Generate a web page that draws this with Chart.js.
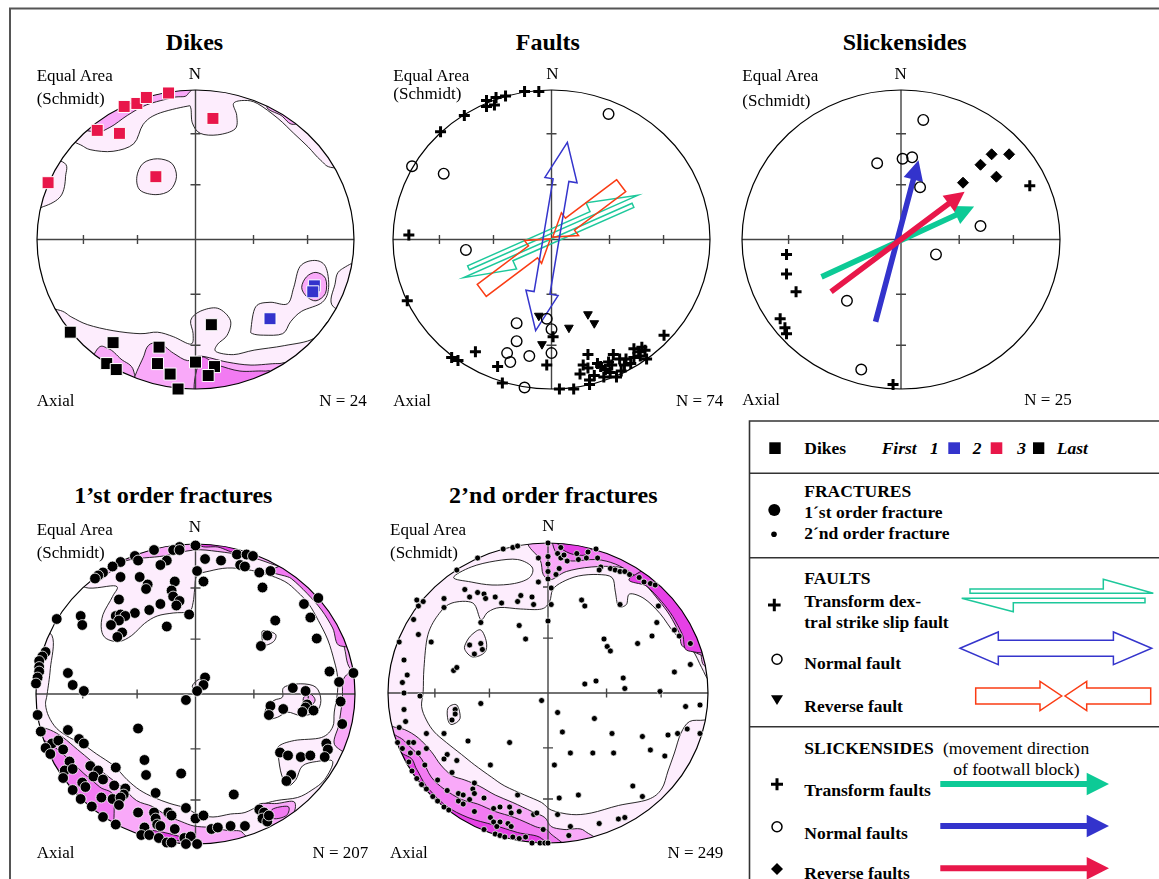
<!DOCTYPE html>
<html>
<head>
<meta charset="utf-8">
<title>Stereonets</title>
<script src="https://cdn.jsdelivr.net/npm/chart.js@4.4.1/dist/chart.umd.min.js"></script>
<style>
  html, body { margin: 0; padding: 0; background: #fff; }
  body { position: relative; width: 1159px; height: 879px; overflow: hidden;
         font-family: "Liberation Serif", "Times New Roman", Times, serif; color: #000; }
  canvas { position: absolute; }
  svg { position: absolute; left: 0; top: 0; }
  .t { position: absolute; white-space: nowrap; line-height: 1; }
  .lab { font-size: 17px; }
  .ttl { font-size: 24px; font-weight: bold; transform: translateX(-50%); }
  .c { transform: translateX(-50%); }
  .lg { font-size: 17.5px; font-weight: bold; }
  .bi { font-style: italic; }
  .reg { font-weight: normal; }
</style>
</head>
<body>

<svg width="1159" height="879">
  <path d="M10 879 V8.5 H1159" stroke="#555" stroke-width="2" fill="none"/>
  <g stroke="#333" stroke-width="1.6" fill="none">
    <path d="M749.5 879 V421 H1159"/>
    <path d="M749.5 473.3 H1159 M749.5 557.7 H1159 M749.5 726.7 H1159"/>
  </g>
  <rect x="769.3" y="442.3" width="11.4" height="11.7" fill="#000"/>
  <rect x="948.3" y="442.3" width="11.7" height="11.7" fill="#3333cc"/>
  <rect x="990.7" y="442.3" width="11.6" height="11.7" fill="#e8174a"/>
  <rect x="1033" y="442.3" width="11.3" height="11.7" fill="#000"/>
  <circle cx="774.3" cy="510" r="6" fill="#000"/>
  <circle cx="774" cy="534.3" r="2.8" fill="#000"/>
  <path d="M768 605 H780.6 M774.3 598.7 V611.3" stroke="#000" stroke-width="3"/>
  <circle cx="777" cy="659.3" r="5" fill="none" stroke="#000" stroke-width="1.5"/>
  <polygon points="771,695.3 783,695.3 777,705" fill="#000"/>
  <path d="M771 784.3 H783 M777 778.3 V790.3" stroke="#000" stroke-width="3"/>
  <circle cx="777" cy="826.7" r="5" fill="none" stroke="#000" stroke-width="1.5"/>
  <polygon points="777,863 783,869 777,875 771,869" fill="#000"/>
  <g fill="none" stroke-width="1.5">
    <polygon stroke="#1dc89b" points="970,593.3 1153.3,593.3 1103.3,579.3 1103.3,589 970,589"/>
    <polygon stroke="#1dc89b" points="1145,598.3 961.7,598.3 1013.3,611.7 1013.3,602.7 1145,602.7"/>
    <polygon stroke="#3535cc" points="960,648.3 998.3,632 998.3,640.3 1113.4,640.3 1113.4,632 1151.7,648.3 1113.4,664.6 1113.4,656.3 998.3,656.3 998.3,664.6"/>
    <polygon stroke="#fa3c14" points="975.7,688 1040,688 1040,681.3 1061.7,696 1040,710.7 1040,704 975.7,704"/>
    <polygon stroke="#fa3c14" points="1150.7,688 1086.7,688 1086.7,681.3 1065,696 1086.7,710.7 1086.7,704 1150.7,704"/>
  </g>
  <polygon fill="#0dca96" points="940.3,781 1086.7,781 1086.7,772.7 1109,784 1086.7,795.3 1086.7,787 940.3,787"/>
  <polygon fill="#3333cc" points="940.3,823 1086.7,823 1086.7,814.7 1109,826 1086.7,837.3 1086.7,829 940.3,829"/>
  <polygon fill="#e8174a" points="940.3,865.3 1086.7,865.3 1086.7,857 1109,868.3 1086.7,879.6 1086.7,871.3 940.3,871.3"/>
</svg>

<canvas id="dikes"></canvas>
<canvas id="faults"></canvas>
<canvas id="slicks"></canvas>
<canvas id="first"></canvas>
<canvas id="second"></canvas>

<!-- panel labels -->
<div class="t ttl" style="left:194.5px;top:29.9px">Dikes</div>
<div class="t lab" style="left:36.7px;top:66.8px">Equal Area</div>
<div class="t lab" style="left:36.7px;top:89.8px">(Schmidt)</div>
<div class="t lab c" style="left:195px;top:64.8px">N</div>
<div class="t lab" style="left:36.7px;top:391.5px">Axial</div>
<div class="t lab" style="right:792.3px;top:391.5px">N = 24</div>

<div class="t ttl" style="left:547.8px;top:29.9px">Faults</div>
<div class="t lab" style="left:393.3px;top:66.8px">Equal Area</div>
<div class="t lab" style="left:393.3px;top:84.8px">(Schmidt)</div>
<div class="t lab c" style="left:552.3px;top:64.8px">N</div>
<div class="t lab" style="left:393.3px;top:391.5px">Axial</div>
<div class="t lab" style="right:435.7px;top:391.5px">N = 74</div>

<div class="t ttl" style="left:904.7px;top:29.9px">Slickensides</div>
<div class="t lab" style="left:742.3px;top:66.8px">Equal Area</div>
<div class="t lab" style="left:742.3px;top:91.8px">(Schmidt)</div>
<div class="t lab c" style="left:900.7px;top:64.8px">N</div>
<div class="t lab" style="left:742.3px;top:390.8px">Axial</div>
<div class="t lab" style="right:87.3px;top:390.8px">N = 25</div>

<div class="t ttl" style="left:173.3px;top:483.2px">1’st order fractures</div>
<div class="t lab" style="left:36.7px;top:520.8px">Equal Area</div>
<div class="t lab" style="left:36.7px;top:543.8px">(Schmidt)</div>
<div class="t lab c" style="left:195px;top:517.5px">N</div>
<div class="t lab" style="left:36.7px;top:844.1px">Axial</div>
<div class="t lab" style="right:790.7px;top:844.1px">N = 207</div>

<div class="t ttl" style="left:553.3px;top:483.2px">2’nd order fractures</div>
<div class="t lab" style="left:390px;top:520.8px">Equal Area</div>
<div class="t lab" style="left:390px;top:543.8px">(Schmidt)</div>
<div class="t lab c" style="left:548.3px;top:516.8px">N</div>
<div class="t lab" style="left:390px;top:843.8px">Axial</div>
<div class="t lab" style="right:435.7px;top:843.8px">N = 249</div>

<!-- legend text -->
<div class="t lg" style="left:804.3px;top:440.3px">Dikes</div>
<div class="t lg bi" style="left:881.7px;top:440.3px">First</div>
<div class="t lg bi" style="left:930px;top:440.3px">1</div>
<div class="t lg bi" style="left:972.7px;top:440.3px">2</div>
<div class="t lg bi" style="left:1017.3px;top:440.3px">3</div>
<div class="t lg bi" style="left:1056.7px;top:440.3px">Last</div>
<div class="t lg" style="left:804.3px;top:482.6px">FRACTURES</div>
<div class="t lg" style="left:804.3px;top:503.6px">1´st order fracture</div>
<div class="t lg" style="left:804.3px;top:524.6px">2´nd order fracture</div>
<div class="t lg" style="left:804.3px;top:570.3px">FAULTS</div>
<div class="t lg" style="left:804.3px;top:592.6px">Transform dex-</div>
<div class="t lg" style="left:804.3px;top:613.6px">tral strike slip fault</div>
<div class="t lg" style="left:804.3px;top:655.3px">Normal fault</div>
<div class="t lg" style="left:804.3px;top:698px">Reverse fault</div>
<div class="t lg" style="left:804.3px;top:740.3px">SLICKENSIDES</div>
<div class="t lg reg" style="left:943px;top:740.3px">(movement direction</div>
<div class="t lg reg" style="left:953.3px;top:761.3px">of footwall block)</div>
<div class="t lg" style="left:804.3px;top:782px">Transform faults</div>
<div class="t lg" style="left:804.3px;top:824.6px">Normal faults</div>
<div class="t lg" style="left:804.3px;top:864.6px">Reverse faults</div>

<script>
// net coordinates: -100..100 across the primitive circle, north up
const netTicks = [36.6, 70.7];

// Dikes (1 = first, 3 = last)
const dikeSet1 = [[75, -31], [74, -35], [47, -53]];
const dikeSet2 = [[-45, 89], [-37, 91], [-31, 95], [-17, 98], [-62, 73], [-48, 71], [-93, 38], [-25, 42], [11, 81]];
const dikeSet3 = [[-79, -62], [-52, -69], [-56, -83], [-50, -87], [-23, -72], [-24, -83], [-16, -90],
                  [-11, -100], [0, -82], [12, -85], [8, -91], [10, -57]];

// Faults
const faultTransform = [[-8, 99], [-17, 99], [-29, 96], [-35, 95], [-41, 93], [-36, 90], [-41, 89], [-55, 83],
  [-70, 72], [-90, 3], [-91, -41], [-63, -79], [-59, -81], [-48, -75], [-34, -85], [-31, -96], [-3, -84],
  [1, -65], [5, -100], [14, -100], [24, -97], [71, -64], [23, -77], [18, -90], [23, -86], [27, -91],
  [31, -85], [36, -82], [39, -77], [37, -89], [41, -92], [46, -84], [52, -79], [55, -75], [59, -74],
  [60, -80], [43, -80], [29, -83], [47, -80], [52, -73], [33, -92], [24, -94], [57, -72], [34, -87],
  [50, -83], [56, -78], [44, -88], [20, -84], [38, -84]];
const faultNormal = [[36, 84], [-88, 49], [-68, 44], [-54, -7], [-22, -56], [-3, -53], [0, -60], [-22, -68],
  [-28, -76], [-26, -82], [-14, -78], [0, -76], [-17, -99]];
const faultReverse = [[-8, -51], [23, -50], [27, -56], [11, -59], [-6, -70]];
const faultArrows = [
  { kind: 'transform', from: [-56, -24], to: [55, 28] },
  { kind: 'reverse', from: [-44, -34], to: [44, 36] },
  { kind: 'normal', from: [-10, -61], to: [10, 65] },
];

// Slickensides
const slickTransform = [[81, 36], [-72, -10], [-72, -23], [-66, -35], [-76, -53], [-72, -63], [-73, -59], [-5, -97]];
const slickNormal = [[14, 80], [-15, 51], [1, 54], [7, 55], [12, 35], [50, 9], [22, -10], [-34, -41], [-25, -87]];
const slickReverse = [[39, 38], [50, 50], [57, 57], [68, 57], [60, 42]];
const slickArrows = [
  { kind: 'transform', from: [-50, -25], to: [46, 22] },
  { kind: 'normal', from: [-16, -55], to: [11, 53] },
  { kind: 'reverse', from: [-44, -35], to: [40, 32] },
];

// 1'st order fractures
const firstOrder = [[-10, 98], [0, 99], [-14, 96], [-10, 96], [-26, 96], [-38, 92], [-36, 89], [-47, 88],
  [-52, 85], [-58, 81], [-61, 79], [-63, 77], [-47, 78], [-18, 89], [-22, 86], [-35, 78], [-30, 73],
  [-31, 70], [-13, 75], [-15, 69], [-14, 65], [-10, 62], [-12, 59], [6, 90], [16, 89], [1, 82], [5, 75],
  [26, 93], [32, 93], [36, 92], [28, 86], [31, 85], [40, 81], [47, 82], [42, 71], [77, 64], [68, 60],
  [72, 51], [76, 37], [50, 49], [45, 39], [41, 32], [-48, 63], [-72, 52], [-71, 46], [-87, 50], [-38, 54],
  [-29, 56], [-22, 60], [-4, 53], [-18, 45], [-50, 52], [-47, 53], [-44, 52], [-48, 49], [-53, 46],
  [-46, 41], [-49, 38], [-94, 28], [-96, 25], [-98, 22], [-98, 18], [-98, 15], [-99, 11], [-100, 7],
  [-80, 14], [-77, 6], [-70, 2], [6, 11], [5, 6], [1, 2], [84, 15], [99, 14], [90, 8], [61, 4], [69, 2],
  [-6, -4], [47, -8], [55, -10], [46, -14], [70, -7], [69, -9], [67, -12], [74, -11], [91, -5], [92, -20],
  [-99, -14], [-97, -25], [-36, -23], [-80, -24], [-73, -30], [-70, -33], [-90, -33], [-86, -31], [-83, -37],
  [-94, -36], [-91, -40], [-79, -45], [-82, -51], [-77, -50], [-83, -56], [-66, -48], [-61, -51], [-64, -55],
  [-58, -57], [-50, -49], [-51, -61], [-44, -63], [-45, -67], [-71, -59], [-69, -62], [-77, -64], [-72, -70],
  [-59, -69], [-52, -70], [-47, -69], [-48, -74], [-65, -75], [-58, -82], [-50, -87], [-32, -44], [-31, -54],
  [-9, -53], [-25, -66], [24, -67], [53, -39], [58, -41], [66, -42], [72, -41], [82, -33], [83, -37],
  [81, -42], [60, -54], [57, -58], [-6, -76], [-36, -79], [-26, -79], [-25, -83], [-24, -87], [-22, -88],
  [-17, -79], [-15, -81], [-13, -90], [-32, -89], [-34, -94], [-29, -94], [-23, -96], [-18, -99], [-15, -99],
  [-7, -96], [-3, -95], [-6, -100], [1, -100], [0, -83], [5, -81], [10, -90], [14, -89], [22, -88], [31, -88],
  [40, -77], [43, -79], [42, -83], [45, -85], [46, -81]];

// 2'nd order fractures
const secondOrder = [[0, 100], [-28, 96], [-22, 97], [-19, 98], [-44, 90], [-57, 82], [-6, 90], [0, 91],
  [0, 86], [0, 81], [-6, 74], [0, 76], [2, 70], [8, 97], [6, 93], [8, 90], [7, 83], [5, 79], [10, 92],
  [12, 88], [18, 93], [19, 89], [25, 94], [24, 90], [30, 96], [31, 90], [33, 84], [32, 82], [39, 83],
  [42, 82], [45, 81], [48, 81], [51, 79], [57, 77], [60, 74], [64, 73], [67, 72], [-52, 69], [-44, 67],
  [-40, 66], [-39, 63], [-49, 64], [-33, 64], [-29, 60], [-17, 65], [-10, 64], [-19, 61], [-9, 59], [2, 59],
  [-65, 63], [-65, 57], [-78, 61], [-81, 58], [-84, 49], [-81, 39], [-93, 34], [-90, 22], [-88, 12],
  [-91, 7], [-73, 34], [-42, 47], [-18, 45], [-14, 36], [0, 48], [-49, 32], [-42, 33], [-41, 29], [-46, 26],
  [-59, 15], [-57, 17], [21, 62], [23, 58], [45, 59], [69, 58], [68, 47], [79, 42], [82, 38], [89, 33],
  [65, 38], [56, 33], [35, 36], [37, 31], [39, 28], [79, 14], [89, 19], [23, 6], [30, 8], [47, 10], [48, 3],
  [70, 1], [-82, 62], [-90, 0], [-80, -2], [-42, -7], [-4, -5], [-58, -11], [-58, -14], [-60, -18],
  [-90, -11], [-89, -19], [-93, -23], [-76, -27], [-65, -27], [-50, -32], [-24, -33], [-94, -33], [-87, -33],
  [-84, -33], [-91, -37], [-86, -40], [-81, -40], [-76, -37], [-63, -41], [-65, -44], [-57, -45], [-87, -46],
  [-77, -48], [-60, -53], [-36, -48], [-85, -52], [-82, -57], [-79, -61], [-76, -64], [-72, -69], [-69, -72],
  [-65, -76], [-62, -78], [-69, -58], [-63, -65], [-56, -67], [-53, -68], [-56, -72], [-53, -74], [-49, -71],
  [-46, -60], [-47, -64], [-46, -67], [-40, -70], [-46, -79], [-34, -77], [-30, -76], [-24, -76], [-19, -68],
  [-18, -79], [-23, -80], [-9, -81], [-7, -80], [-36, -83], [-34, -86], [-30, -86], [-25, -87], [-23, -89],
  [-40, -91], [-32, -89], [-33, -94], [-30, -95], [-27, -96], [-22, -96], [-18, -97], [-14, -96], [-10, -100],
  [-5, -100], [-2, -100], [0, -100], [-3, -91], [6, -13], [29, -17], [9, -26], [40, -27], [59, -29],
  [75, -28], [81, -27], [87, -24], [95, -27], [86, -9], [95, -8], [14, -40], [28, -40], [41, -40], [64, -38],
  [73, -42], [4, -48], [53, -62], [59, -69], [19, -68], [7, -70], [6, -81], [14, -89], [13, -95], [32, -87],
  [44, -84], [48, -83]];

// density contours: level 0 = blank, 1..4 = increasing density
const dikesContours = [
  { level: 1, pts: [[-110, 60], [-90, 70], [-74, 64], [-66, 60], [-52, 59], [-39, 64], [-33, 77], [-24, 84], [-6, 89],
    [-3, 88], [-2, 78], [3, 71], [14, 70], [25, 74], [26, 83], [24, 91], [31, 93], [39, 91], [52, 81], [62, 71],
    [71, 62], [79, 53], [87, 48], [110, 50], [110, 110], [-110, 110]] },
  { level: 2, pts: [[-80, 80], [-64, 72], [-54, 75], [-43, 83], [-31, 90], [-14, 95], [-5, 97], [-5, 110], [-80, 110]] },
  { level: 2, pts: [[45, 89], [54, 83], [62, 77], [75, 85], [55, 100]] },
  { level: 1, pts: [[-110, 55], [-84, 52], [-82, 42], [-85, 29], [-96, 22], [-110, 20]] },
  { level: 1, pts: [[-37, 42], [-33, 51], [-24, 54], [-15, 51], [-12, 42], [-16, 33], [-25, 30], [-35, 33]] },
  { level: 1, pts: [[35, -60], [38, -45], [47, -42], [58, -43], [62, -32], [66, -18], [75, -14], [82, -18], [84, -32],
    [80, -42], [67, -48], [60, -55], [55, -63], [43, -64], [36, -63]] },
  { level: 2, pts: [[67, -32], [70, -25], [76, -22], [82, -26], [82, -36], [76, -41], [70, -38]] },
  { level: 1, pts: [[92, -20], [88, -30], [87, -45], [110, -50], [110, -15]] },
  { level: 1, pts: [[-110, -45], [-87, -47], [-78, -52], [-68, -57], [-52, -61], [-35, -63], [-24, -62], [-14, -65],
    [-3, -70], [-1.5, -63], [-3, -54], [3, -48], [14, -46], [22, -54], [20, -64], [14, -70], [13, -75], [24, -77],
    [37, -74], [56, -71], [75, -66], [87, -52], [110, -50], [110, -110], [-110, -110]] },
  { level: 2, pts: [[-63, -75], [-55, -73], [-47, -80], [-39, -88], [-40, -110], [-75, -110]] },
  { level: 2, pts: [[-32, -76], [-24, -69], [-14, -76], [-5, -81], [3, -78], [20, -82], [35, -84], [52, -83], [58, -85],
    [60, -110], [-33, -110]] },
  { level: 3, pts: [[3, -80], [14, -84], [28, -88], [43, -88], [48, -90], [50, -110], [3, -110]] },
];

const firstContours = [
  { level: 1, pts: [[-120, -120], [120, -120], [120, 120], [-120, 120]] },
  { level: 0, pts: [[-91, 17], [-90, 39], [-105, 48], [-80, 82], [-69, 71], [-50, 72], [-52, 65], [-58, 53], [-59, 43],
    [-56, 37], [-48, 35], [-40, 39], [-32, 47], [-24, 52], [-14, 54], [-4, 55], [-1.5, 61], [-0.5, 70], [1, 79],
    [9, 82], [20, 84], [32, 83], [44, 80], [56, 75], [64, 68], [71, 60], [77, 49], [83, 36], [87, 22], [89, 12],
    [89, 1], [87, -12], [86, -22], [79, -29], [62, -31], [52, -35], [52, -42], [54, -54], [58, -61], [63, -57],
    [67, -48], [76, -45], [86, -45], [81, -57], [73, -64], [64, -69], [51, -71], [41, -74], [31, -79], [22, -80],
    [11, -82], [1, -80], [-6, -76], [-16, -73], [-26, -69], [-35, -64], [-43, -57], [-51, -48], [-62, -40],
    [-70, -34], [-79, -29], [-87, -23], [-92, -15], [-94, -7], [-93, 0]] },
  { level: 1, pts: [[42, 42], [50, 40], [49, 35], [43, 33]] },
  { level: 1, pts: [[-2, 5], [1, 9], [4, 10], [5, 7], [2, 1]] },
  { level: 1, pts: [[55.5, 4.5], [66, 6.8], [75.5, 4.5], [78.6, -4.3], [75.5, -12.1], [66, -14.3], [57.7, -12.1],
    [51.4, -15.5], [45.1, -16.5], [44, -9.9], [49.2, -4.3], [54.5, -2.1]] },
  { level: 2, pts: [[68, -2], [72, 0], [75, -4], [72, -8], [68, -6]] },
  { level: 2, pts: [[-75, 95], [-63, 76], [-54, 81], [-43, 89], [-20, 92], [-1, 96], [14, 95], [32, 92], [47, 87],
    [58, 82], [68, 72], [79, 60], [87, 46], [93, 32], [97, 17], [110, 10], [110, 110], [-75, 110]] },
  { level: 2, pts: [[94, 12], [92, -5], [90, -20], [88, -35], [110, -40], [110, 15]] },
  { level: 2, pts: [[-110, -20], [-98.5, -22], [-91, -24], [-83, -29], [-74, -37], [-65, -45], [-56, -54], [-46, -62],
    [-37, -71], [-27, -75], [-18, -81], [-9, -85], [-1, -88], [9, -89], [20, -91], [30, -93], [30, -110], [-110, -110]] },
  { level: 2, pts: [[39, -74], [51, -73], [62, -72], [60, -82], [47, -88], [41, -85]] },
  { level: 3, pts: [[48, -77], [58, -75], [57, -81], [49, -83]] },
  { level: 4, pts: [[3, 99], [14, 98], [26, 95], [30, 110], [0, 110]] },
  { level: 3, pts: [[50, 84], [60, 77], [70, 67], [79, 56], [86, 44], [91, 32], [110, 40], [110, 100]] },
  { level: 3, pts: [[-110, -30], [-95, -31], [-81, -42], [-70, -53], [-60, -62], [-51, -71], [-60, -110], [-110, -110]] },
  { level: 4, pts: [[-27, -91], [-10, -95], [-8, -98], [-27, -95]] },
];

const secondContours = [
  { level: 1, pts: [[-120, -120], [120, -120], [120, 120], [-120, 120]] },
  { level: 0, pts: [[-78, 1], [-77.5, 17], [-75, 39], [-68, 53], [-60, 60], [-47, 60], [-42, 49], [-37.5, 54],
    [-30, 57], [-17, 56], [-4, 56], [1, 61], [3, 69], [9, 74], [19, 78], [31, 79], [40, 77], [42, 68], [44, 58],
    [49, 59], [51, 66], [60, 63], [70, 53], [79, 40], [90, 29], [96, 17], [101, 8], [110, 5], [110, -15], [98, -18],
    [88.5, -19], [83, -27], [79, -40], [75, -52], [71, -64], [62.5, -71], [44, -75], [27, -80], [14.6, -81], [2, -78],
    [-4, -73], [-14.6, -68], [-27, -62], [-35.4, -56], [-45.8, -48], [-54, -41], [-63.5, -33], [-71, -26], [-76, -18],
    [-79, -9]] },
  { level: 0, pts: [[-59, 77], [-48, 84], [-33, 88], [-19, 89], [-10, 84], [-11.5, 77], [-21, 73], [-35, 72], [-48, 74]] },
  { level: 1, pts: [[-51, 34], [-47.5, 39], [-42, 42], [-38.5, 34], [-39.6, 27], [-47, 24], [-52, 29]] },
  { level: 1, pts: [[-62.5, -10], [-57, -8], [-55, -17], [-60, -21], [-62.5, -18]] },
  { level: 2, pts: [[-12.5, 110], [-12.5, 99], [-5, 89], [-3, 79], [2, 75.6], [11.5, 81], [27, 84], [44, 84], [56, 80],
    [66, 71], [75, 60], [84, 48], [90, 38], [95, 28], [98, 18], [110, 20], [110, 110]] },
  { level: 3, pts: [[3, 110], [3, 99], [7, 91], [15, 88], [30, 89], [42, 86], [52, 80], [61, 72], [69, 62], [76, 52],
    [82, 40], [86, 30], [110, 30], [110, 110]] },
  { level: 4, pts: [[6, 110], [6, 100], [10, 95], [18, 92], [26, 94], [30, 110]] },
  { level: 4, pts: [[53, 78], [62, 71], [71, 61], [78, 51], [84, 39], [88, 28], [110, 35], [110, 100]] },
  { level: 2, pts: [[-110, -15], [-98, -22], [-89.6, -24.4], [-81, -30], [-73, -39], [-67, -48], [-60, -55], [-52, -58],
    [-43, -62], [-33, -68], [-22, -73], [-10, -79], [-2, -83], [2, -89], [10, -91], [23, -92], [30, -110], [-110, -110]] },
  { level: 3, pts: [[-110, -25], [-94, -29], [-86.5, -35.6], [-79, -44], [-73, -56], [-65, -64], [-54, -71], [-44, -74],
    [-33, -79], [-21, -83], [-8, -89], [1, -93], [5, -110], [-110, -110]] },
  { level: 4, pts: [[-110, -40], [-88, -42], [-82, -51], [-76, -62], [-64, -75], [-50, -83], [-34, -88], [-19, -93],
    [-4, -97], [0, -110], [-110, -110]] },
];

// ---------------------------------------------------------------------------
const levelColors = ['#ffffff', '#fdedfd', '#f9a9f9', '#f27af2', '#e640e6'];
const kindColors = { transform: '#1dc89b', normal: '#3535cc', reverse: '#fa3c14' };
const slickColors = { transform: '#0dca96', normal: '#3333cc', reverse: '#e8174a' };

const pts = arr => arr.map(p => ({ x: p[0], y: p[1] }));

function smoothClosed(ctx, p) {
  const n = p.length;
  ctx.moveTo(p[0][0], p[0][1]);
  for (let i = 0; i < n; i++) {
    const p0 = p[(i - 1 + n) % n], p1 = p[i], p2 = p[(i + 1) % n], p3 = p[(i + 2) % n];
    ctx.bezierCurveTo(
      p1[0] + (p2[0] - p0[0]) / 6, p1[1] + (p2[1] - p0[1]) / 6,
      p2[0] - (p3[0] - p1[0]) / 6, p2[1] - (p3[1] - p1[1]) / 6,
      p2[0], p2[1]);
  }
  ctx.closePath();
}

// outline shapes for fault kinematics, in (along, across) pixels
function faultShapes(kind, L) {
  if (kind === 'transform') {
    const k = L / 191.6;
    return [
      [[-87.5 * k, 2.5], [95.8 * k, 2.5], [45.8 * k, 16.5], [45.8 * k, 6.8], [-87.5 * k, 6.8]],
      [[87.5 * k, -2.5], [-95.8 * k, -2.5], [-44.2 * k, -15.9], [-44.2 * k, -6.9], [87.5 * k, -6.9]],
    ];
  }
  if (kind === 'normal') {
    const h = 38.3, hw = 16.3, sw = 8, e = L / 2;
    return [[[-e, 0], [-e + h, hw], [-e + h, sw], [e - h, sw], [e - h, hw], [e, 0],
             [e - h, -hw], [e - h, -sw], [-e + h, -sw], [-e + h, -hw]]];
  }
  const k = L / 175;
  return [
    [[-87.5 * k, 7.5], [-23.2 * k, 7.5], [-23.2 * k, 14.3], [-1.5, 0], [-23.2 * k, -14.3], [-23.2 * k, -7.5], [-87.5 * k, -7.5]],
    [[87.5 * k, 7.5], [23.2 * k, 7.5], [23.2 * k, 14.3], [1.5, 0], [23.2 * k, -14.3], [23.2 * k, -7.5], [87.5 * k, -7.5]],
  ];
}

function drawArrow(ctx, a, x, y, filled) {
  const x1 = x.getPixelForValue(a.from[0]), y1 = y.getPixelForValue(a.from[1]);
  const x2 = x.getPixelForValue(a.to[0]), y2 = y.getPixelForValue(a.to[1]);
  const L = Math.hypot(x2 - x1, y2 - y1);
  const ux = (x2 - x1) / L, uy = (y2 - y1) / L, nx = uy, ny = -ux;
  const mx = (x1 + x2) / 2, my = (y1 + y2) / 2;
  const P = (s, t) => [mx + ux * s + nx * t, my + uy * s + ny * t];
  let shapes;
  if (filled) {
    const e = L / 2, h = 20, hw = 10, sw = 2.8;
    shapes = [[[-e, sw], [e - h, sw], [e - h, hw], [e, 0], [e - h, -hw], [e - h, -sw], [-e, -sw]]];
  } else {
    shapes = faultShapes(a.kind, L);
  }
  shapes.forEach(sh => {
    ctx.beginPath();
    sh.forEach((q, i) => {
      const [px, py] = P(q[0], q[1]);
      if (i === 0) ctx.moveTo(px, py); else ctx.lineTo(px, py);
    });
    ctx.closePath();
    if (filled) {
      ctx.fillStyle = slickColors[a.kind];
      ctx.fill();
    } else {
      ctx.strokeStyle = kindColors[a.kind];
      ctx.lineWidth = 1.5;
      ctx.stroke();
    }
  });
}

function netPlugin(contours, arrows, filledArrows) {
  return {
    id: 'net',
    beforeDatasetsDraw(chart) {
      const { ctx } = chart;
      const x = chart.scales.x, y = chart.scales.y;
      const cx = x.getPixelForValue(0), cy = y.getPixelForValue(0);
      const rx = x.getPixelForValue(100) - cx, ry = cy - y.getPixelForValue(100);
      const toPx = p => [x.getPixelForValue(p[0]), y.getPixelForValue(p[1])];

      ctx.save();
      ctx.beginPath();
      ctx.ellipse(cx, cy, rx, ry, 0, 0, Math.PI * 2);
      ctx.clip();
      contours.forEach(c => {
        ctx.beginPath();
        smoothClosed(ctx, c.pts.map(toPx));
        ctx.fillStyle = levelColors[c.level];
        ctx.fill();
        ctx.lineWidth = 0.9;
        ctx.strokeStyle = '#111';
        ctx.stroke();
      });
      ctx.restore();

      ctx.save();
      ctx.strokeStyle = '#444';
      ctx.lineWidth = 1.4;
      ctx.beginPath();
      ctx.moveTo(cx - rx, cy); ctx.lineTo(cx + rx, cy);
      ctx.moveTo(cx, cy - ry); ctx.lineTo(cx, cy + ry);
      netTicks.forEach(t => {
        [t, -t].forEach(v => {
          const px = x.getPixelForValue(v), py = y.getPixelForValue(v);
          ctx.moveTo(px, cy - 4.5); ctx.lineTo(px, cy + 4.5);
          ctx.moveTo(cx - 5, py); ctx.lineTo(cx + 5, py);
        });
      });
      ctx.stroke();
      ctx.beginPath();
      ctx.ellipse(cx, cy, rx, ry, 0, 0, Math.PI * 2);
      ctx.strokeStyle = '#000';
      ctx.lineWidth = 1.2;
      ctx.stroke();
      arrows.forEach(a => drawArrow(ctx, a, x, y, filledArrows));
      ctx.restore();
    },
  };
}

function makeNet(id, box, datasets, contours, arrows, filledArrows) {
  const pad = 14;
  const left = Math.round(box.cx - box.rx - pad), top = Math.round(box.cy - box.ry - pad);
  const w = Math.round(2 * box.rx + 2 * pad), h = Math.round(2 * box.ry + 2 * pad);
  const canvas = document.getElementById(id);
  canvas.width = w; canvas.height = h;
  canvas.style.left = left + 'px'; canvas.style.top = top + 'px';
  canvas.style.width = w + 'px'; canvas.style.height = h + 'px';
  datasets.forEach(d => { d.clip = false; });
  return new Chart(canvas.getContext('2d'), {
    type: 'scatter',
    data: { datasets },
    options: {
      responsive: false,
      animation: false,
      devicePixelRatio: 1,
      events: [],
      layout: { padding: pad },
      plugins: { legend: { display: false }, tooltip: { enabled: false } },
      scales: {
        x: { type: 'linear', min: -100, max: 100, display: false },
        y: { type: 'linear', min: -100, max: 100, display: false },
      },
    },
    plugins: [netPlugin(contours, arrows, filledArrows)],
  });
}

const square = (data, color) => ({ data: pts(data), pointStyle: 'rect', pointRadius: 8.5,
  backgroundColor: color, borderColor: '#fff', borderWidth: 1 });
const cross = data => ({ data: pts(data), pointStyle: 'cross', pointRadius: 5.5,
  borderColor: '#000', borderWidth: 3 });
const ring = data => ({ data: pts(data), pointStyle: 'circle', pointRadius: 5.3,
  backgroundColor: 'rgba(0,0,0,0)', borderColor: '#000', borderWidth: 1.4 });

makeNet('dikes', { cx: 195, cy: 239.3, rx: 158.3, ry: 149.3 }, [
  square(dikeSet3, '#000'),
  square(dikeSet2, '#e8174a'),
  square(dikeSet1, '#3333cc'),
], dikesContours, [], false);

makeNet('faults', { cx: 551.5, cy: 239.4, rx: 158.5, ry: 149.5 }, [
  cross(faultTransform),
  ring(faultNormal),
  { data: pts(faultReverse), pointStyle: 'triangle', pointRotation: 180, pointRadius: 5,
    backgroundColor: '#000', borderColor: '#000', borderWidth: 1 },
], [], faultArrows, false);

makeNet('slicks', { cx: 900.5, cy: 239.3, rx: 158.8, ry: 149.5 }, [
  cross(slickTransform),
  ring(slickNormal),
  { data: pts(slickReverse), pointStyle: 'rectRot', pointRadius: 5.5,
    backgroundColor: '#000', borderColor: '#000', borderWidth: 1 },
], [], slickArrows, true);

makeNet('first', { cx: 195, cy: 693.5, rx: 159.5, ry: 150 }, [
  { data: pts(firstOrder), pointStyle: 'circle', pointRadius: 5.4,
    backgroundColor: '#000', borderColor: '#fff', borderWidth: 0.8 },
], firstContours, [], false);

makeNet('second', { cx: 548.3, cy: 693.3, rx: 160, ry: 150 }, [
  { data: pts(secondOrder), pointStyle: 'circle', pointRadius: 3,
    backgroundColor: '#000', borderColor: '#fff', borderWidth: 0.7 },
], secondContours, [], false);
</script>
</body>
</html>
